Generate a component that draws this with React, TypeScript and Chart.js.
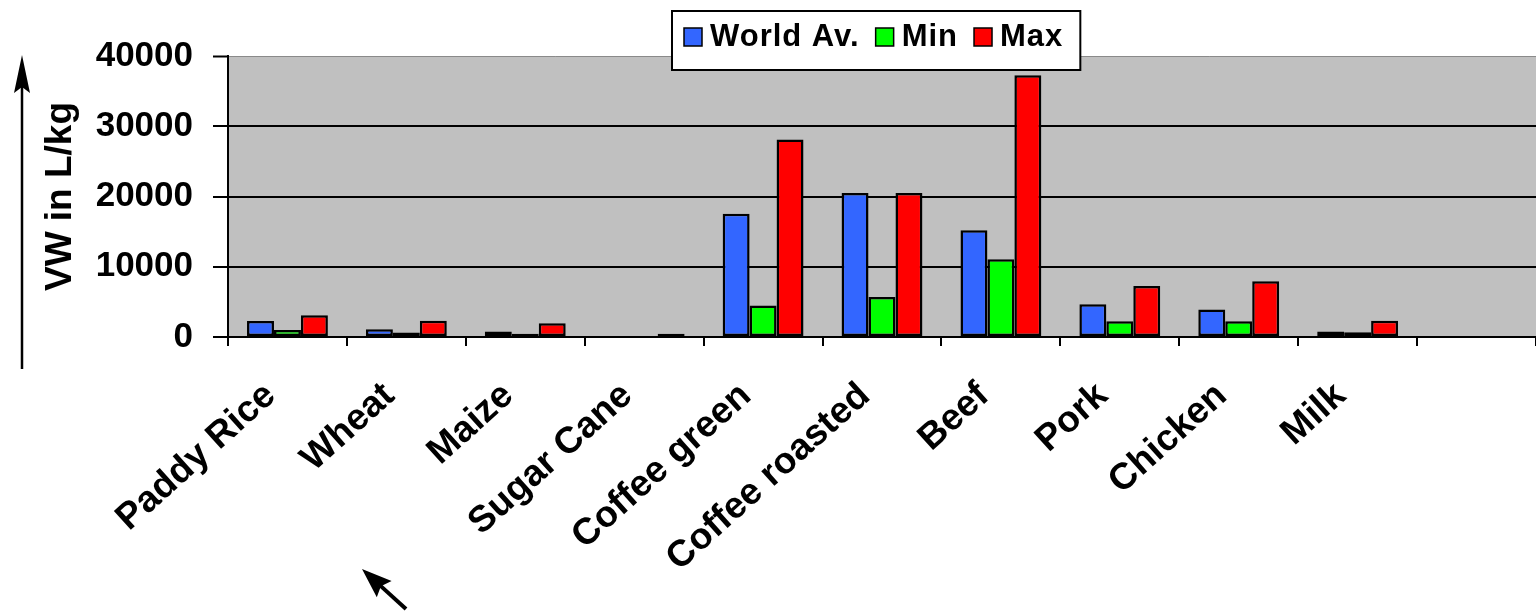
import { useEffect, useRef } from "react";
import { Chart, registerables } from "chart.js";

Chart.register(...registerables);

// Virtual water content per product (litres per kg)
const categories = [
  "Paddy Rice",
  "Wheat",
  "Maize",
  "Sugar Cane",
  "Coffee green",
  "Coffee roasted",
  "Beef",
  "Pork",
  "Chicken",
  "Milk",
  "",
];
const worldAverage = [2290, 1100, 800, 100, 17550, 20500, 15200, 4650, 3900, 780, null];
const minimum = [1000, 650, 450, 50, 4500, 5700, 11050, 2250, 2250, 690, null];
const maximum = [3100, 2300, 1950, 450, 28100, 20500, 37250, 7250, 7950, 2300, null];

const seriesNames = ["World Av.", "Min", "Max"];
const seriesColors = ["#3366FF", "#00FF00", "#FF0000"];
const yTicks = [0, 10000, 20000, 30000, 40000];
const yTitle = "VW in L/kg";

const FAMILY = "'Liberation Sans', Arial, Helvetica, sans-serif";

// Grey plot background behind the bars
const plotBackground = {
  id: "plotBackground",
  beforeDraw(chart: any) {
    const { ctx, chartArea } = chart;
    ctx.save();
    ctx.fillStyle = "#C0C0C0";
    ctx.fillRect(chartArea.left, chartArea.top, chartArea.right - chartArea.left, chartArea.bottom - chartArea.top);
    ctx.restore();
  },
};

// Boxed legend laid over the top of the plot, plus the two hand-drawn arrows
const overlay = {
  id: "overlay",
  afterDraw(chart: any) {
    const { ctx } = chart;
    ctx.save();

    // legend
    ctx.font = `bold 31px ${FAMILY}`;
    try {
      (ctx as any).letterSpacing = "1px";
    } catch (e) {
      /* older canvas */
    }
    const left = 672;
    const top = 11;
    const bottom = 70;
    const sw = 18;
    let x = left + 12;
    const items: { x: number; color: string; label: string; w: number }[] = [];
    chart.data.datasets.forEach((ds: any) => {
      const w = ctx.measureText(ds.label).width;
      items.push({ x, color: ds.backgroundColor, label: ds.label, w });
      x += sw + 8 + w + 16;
    });
    const right = x - 16 + 17;
    ctx.fillStyle = "#FFFFFF";
    ctx.fillRect(left, top, right - left, bottom - top);
    ctx.strokeStyle = "#000";
    ctx.lineWidth = 2;
    ctx.strokeRect(left, top, right - left, bottom - top);
    items.forEach((it) => {
      ctx.fillStyle = it.color;
      ctx.fillRect(it.x, 28, sw, sw);
      ctx.lineWidth = 1.5;
      ctx.strokeRect(it.x, 28, sw, sw);
      ctx.fillStyle = "#000";
      ctx.textBaseline = "alphabetic";
      ctx.textAlign = "left";
      ctx.fillText(it.label, it.x + sw + 8, 46);
    });
    try {
      (ctx as any).letterSpacing = "0px";
    } catch (e) {
      /* older canvas */
    }

    // vertical arrow beside the value axis
    ctx.strokeStyle = "#000";
    ctx.fillStyle = "#000";
    ctx.lineWidth = 2.5;
    ctx.beginPath();
    ctx.moveTo(22, 369);
    ctx.lineTo(22, 80);
    ctx.stroke();
    ctx.beginPath();
    ctx.moveTo(22, 55);
    ctx.lineTo(14, 93);
    ctx.lineTo(22, 87);
    ctx.lineTo(30, 93);
    ctx.closePath();
    ctx.fill();

    // small diagonal arrow under the labels
    const tip = { x: 362, y: 569 };
    const tail = { x: 406, y: 609 };
    const dx = tail.x - tip.x;
    const dy = tail.y - tip.y;
    const len = Math.hypot(dx, dy);
    const ux = dx / len;
    const uy = dy / len;
    const hl = 30;
    const hw = 11;
    ctx.lineWidth = 4;
    ctx.beginPath();
    ctx.moveTo(tail.x, tail.y);
    ctx.lineTo(tip.x + ux * hl * 0.8, tip.y + uy * hl * 0.8);
    ctx.stroke();
    ctx.beginPath();
    ctx.moveTo(tip.x, tip.y);
    ctx.lineTo(tip.x + ux * hl - uy * hw, tip.y + uy * hl + ux * hw);
    ctx.lineTo(tip.x + ux * hl * 0.85, tip.y + uy * hl * 0.85);
    ctx.lineTo(tip.x + ux * hl + uy * hw, tip.y + uy * hl - ux * hw);
    ctx.closePath();
    ctx.fill();

    ctx.restore();
  },
};

export default function App() {
  const canvasRef = useRef<HTMLCanvasElement | null>(null);

  useEffect(() => {
    const canvas = canvasRef.current;
    if (!canvas) return;
    const series = [worldAverage, minimum, maximum];
    const chart = new Chart(canvas, {
      type: "bar",
      data: {
        labels: categories,
        datasets: series.map((values, i) => ({
          label: seriesNames[i],
          data: values,
          backgroundColor: seriesColors[i],
          borderColor: "#000000",
          borderWidth: 2.5,
          borderSkipped: false,
          categoryPercentage: 0.68,
          barPercentage: 1.0,
        })),
      },
      options: {
        animation: false,
        responsive: true,
        maintainAspectRatio: false,
        layout: { padding: { top: 56, left: 0, right: 0, bottom: 0 } },
        plugins: {
          legend: { display: false },
          tooltip: { enabled: false },
        },
        scales: {
          x: {
            type: "category",
            offset: true,
            grid: {
              offset: true,
              drawOnChartArea: false,
              drawTicks: true,
              tickLength: 9,
              tickColor: "#000",
              tickWidth: 2,
              lineWidth: 2,
              color: "#000",
            },
            border: { display: true, color: "#000", width: 2 },
            ticks: {
              autoSkip: false,
              minRotation: 42,
              maxRotation: 42,
              padding: 28,
              labelOffset: -17,
              color: "#000",
              font: { family: FAMILY, size: 37, weight: "bold" },
            },
            afterFit: (scale: any) => {
              scale.height = 274;
            },
          },
          y: {
            min: 0,
            max: 40000,
            afterBuildTicks: (scale: any) => {
              scale.ticks = yTicks.map((v) => ({ value: v }));
            },
            ticks: {
              padding: 20,
              color: "#000",
              font: { family: FAMILY, size: 35, weight: "bold" },
              callback: (v: any) => String(v),
            },
            grid: {
              color: (ctx: any) => (ctx.tick && ctx.tick.value === 40000 ? "#8a8a8a" : "#000"),
              lineWidth: (ctx: any) => (ctx.tick && ctx.tick.value === 40000 ? 1 : 2),
              tickColor: "#000",
              tickWidth: 2,
              tickLength: 15,
              drawTicks: true,
            },
            border: { display: true, color: "#000", width: 2 },
            title: {
              display: true,
              text: yTitle,
              color: "#000",
              font: { family: FAMILY, size: 37, weight: "bold" },
              padding: { top: 39, bottom: 0 },
            },
            afterFit: (scale: any) => {
              scale.width = 228;
            },
          },
        },
      } as any,
      plugins: [plotBackground, overlay],
    });
    return () => chart.destroy();
  }, []);

  return (
    <div style={{ position: "absolute", left: 0, top: 0, width: 1536, height: 611, background: "#fff" }}>
      <canvas ref={canvasRef} />
    </div>
  );
}
